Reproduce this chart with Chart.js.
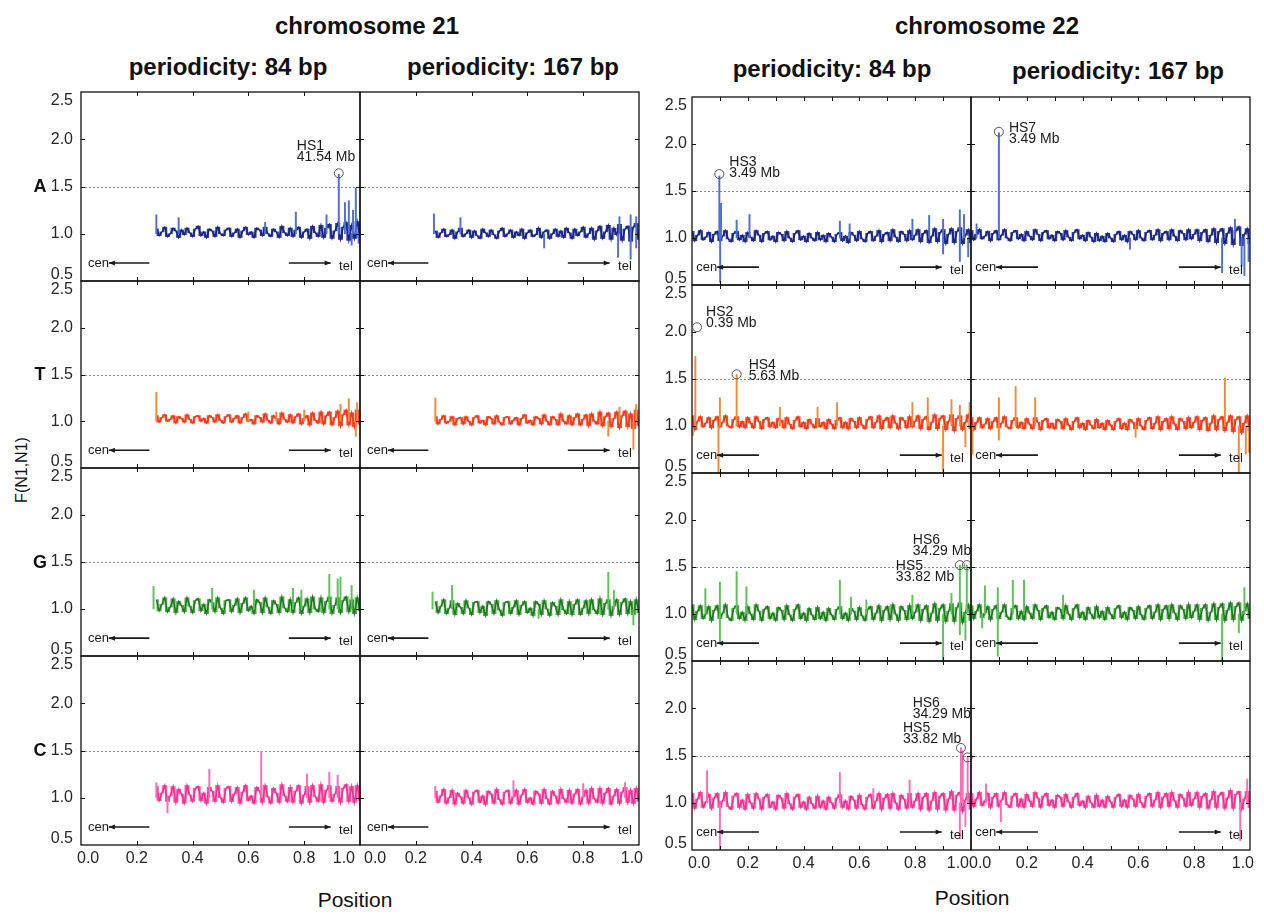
<!DOCTYPE html>
<html>
<head>
<meta charset="utf-8">
<script src="https://cdn.jsdelivr.net/npm/chart.js@4.4.1/dist/chart.umd.min.js"></script>
<style>
  body{margin:0;background:#fff;width:1264px;height:915px;overflow:hidden;position:relative;font-family:"Liberation Sans",Arial,sans-serif;}
  canvas{position:absolute;}
  .t{position:absolute;white-space:nowrap;color:#111;transform:translate(-50%,-50%);}
  .ttl{font-weight:bold;font-size:24px;}
</style>
</head>
<body>
<div class="t ttl" style="left:367px;top:26px;">chromosome 21</div>
<div class="t ttl" style="left:987px;top:26px;">chromosome 22</div>
<div class="t ttl" style="left:228px;top:67px;">periodicity: 84 bp</div>
<div class="t ttl" style="left:513px;top:67px;">periodicity: 167 bp</div>
<div class="t ttl" style="left:832px;top:69px;">periodicity: 84 bp</div>
<div class="t ttl" style="left:1118px;top:71px;">periodicity: 167 bp</div>
<div class="t" style="left:355px;top:900px;font-size:21px;">Position</div>
<div class="t" style="left:972px;top:898px;font-size:21px;">Position</div>
<div class="t" style="left:22px;top:470px;font-size:16px;transform:translate(-50%,-50%) rotate(-90deg);">F(N1,N1)</div>

<script>
// 横軸の位置 (染色体上の相対位置)
const POS21 = [
  0.27,0.28,0.29,0.30,0.31,0.32,0.33,0.34,0.35,0.36,
  0.37,0.38,0.39,0.40,0.41,0.42,0.43,0.44,0.45,0.46,
  0.47,0.48,0.49,0.50,0.51,0.52,0.53,0.54,0.55,0.56,
  0.57,0.58,0.59,0.60,0.61,0.62,0.63,0.64,0.65,0.66,
  0.67,0.68,0.69,0.70,0.71,0.72,0.73,0.74,0.75,0.76,
  0.77,0.78,0.79,0.80,0.81,0.82,0.83,0.84,0.85,0.86,
  0.87,0.88,0.89,0.90,0.91,0.92,0.93,0.94,0.95,0.96,
  0.97,0.98,0.99,1.00];
const POS22 = [
  0.00,0.01,0.02,0.03,0.04,0.05,0.06,0.07,0.08,0.09,
  0.10,0.11,0.12,0.13,0.14,0.15,0.16,0.17,0.18,0.19,
  0.20,0.21,0.22,0.23,0.24,0.25,0.26,0.27,0.28,0.29,
  0.30,0.31,0.32,0.33,0.34,0.35,0.36,0.37,0.38,0.39,
  0.40,0.41,0.42,0.43,0.44,0.45,0.46,0.47,0.48,0.49,
  0.50,0.51,0.52,0.53,0.54,0.55,0.56,0.57,0.58,0.59,
  0.60,0.61,0.62,0.63,0.64,0.65,0.66,0.67,0.68,0.69,
  0.70,0.71,0.72,0.73,0.74,0.75,0.76,0.77,0.78,0.79,
  0.80,0.81,0.82,0.83,0.84,0.85,0.86,0.87,0.88,0.89,
  0.90,0.91,0.92,0.93,0.94,0.95,0.96,0.97,0.98,0.99,
  1.00];

// 目盛り
const X_TICKS = [0.0, 0.2, 0.4, 0.6, 0.8, 1.0];
const X_LABELS = ['0.0','0.2','0.4','0.6','0.8','1.0'];
const Y_TICKS = [0.5, 1.0, 1.5, 2.0, 2.5];
const Y_LABELS = ['0.5','1.0','1.5','2.0','2.5'];
const MINOR21 = [0.2, 0.4, 0.6, 0.8];
const MINOR22 = [0.1, 0.2, 0.3, 0.4, 0.5, 0.6, 0.7, 0.8, 0.9];
const GUIDE = 1.5;
const ROWS = ['A','T','G','C'];

// chromosome 21 ノイズ (F値)
const A21_84 = [
  1.05,0.98,1.02,1.07,0.97,1.00,1.06,1.03,0.96,1.04,
  0.99,1.06,1.01,0.97,1.05,1.08,0.98,1.02,0.96,1.05,
  1.03,0.97,1.07,1.00,0.98,1.04,1.06,0.97,1.01,1.05,
  0.96,1.03,1.07,0.99,1.02,0.96,1.06,1.04,0.98,1.07,
  1.00,0.97,1.05,1.02,0.96,1.08,1.01,0.98,1.06,0.97,
  1.04,1.07,0.96,1.02,1.05,0.95,1.08,1.01,0.97,1.09,
  0.96,1.06,1.10,0.95,1.03,1.11,0.94,1.07,1.12,0.93,
  1.09,0.95,1.13,0.96];
const A21_167 = [
  1.03,0.96,1.01,1.05,0.97,0.99,1.04,0.95,1.02,1.06,
  0.97,1.00,1.04,0.96,1.03,0.98,0.95,1.05,1.01,0.97,
  1.04,0.99,0.95,1.03,1.06,0.97,1.00,1.04,0.96,1.02,
  0.98,1.05,0.95,1.01,1.04,0.97,0.99,1.06,0.96,1.02,
  1.04,0.95,1.00,1.05,0.97,1.03,0.96,1.06,1.01,0.95,
  1.05,0.98,1.02,1.07,0.96,1.00,1.06,0.94,1.03,1.08,
  0.95,1.02,1.09,0.94,1.06,0.99,1.10,0.93,1.05,1.08,
  0.92,1.07,1.11,0.94];
const T21_84 = [
  1.06,0.99,1.04,1.07,1.00,1.02,1.06,0.98,1.05,1.03,
  0.99,1.07,1.02,0.98,1.05,1.06,1.00,1.03,0.98,1.06,
  1.04,0.99,1.07,1.01,0.98,1.05,1.07,0.99,1.03,1.06,
  0.98,1.04,1.08,1.00,1.02,0.97,1.06,1.04,0.99,1.08,
  1.01,0.98,1.06,1.03,0.97,1.09,1.02,0.99,1.07,0.98,
  1.05,1.08,0.97,1.03,1.06,0.96,1.09,1.01,0.98,1.10,
  0.97,1.06,1.10,0.96,1.04,1.11,0.95,1.07,1.12,0.96,
  1.09,0.94,1.12,0.97];
const T21_167 = [
  1.05,0.97,1.02,1.06,0.98,1.00,1.05,0.96,1.03,1.04,
  0.97,1.05,1.00,0.96,1.04,1.06,0.98,1.01,0.96,1.05,
  1.03,0.97,1.06,0.99,0.96,1.04,1.05,0.97,1.01,1.04,
  0.96,1.03,1.07,0.98,1.01,0.96,1.05,1.03,0.97,1.07,
  1.00,0.96,1.05,1.02,0.96,1.08,1.00,0.97,1.06,0.96,
  1.04,1.08,0.96,1.02,1.07,0.95,1.08,1.00,0.97,1.10,
  0.95,1.05,1.09,0.94,1.03,1.10,0.93,1.06,1.11,0.94,
  1.08,0.92,1.12,0.95];
const G21_84 = [
  1.10,0.98,1.05,1.12,0.97,1.02,1.11,0.96,1.08,1.04,
  0.97,1.12,1.03,0.96,1.09,1.11,0.98,1.05,0.95,1.10,
  1.07,0.97,1.12,1.01,0.95,1.09,1.10,0.97,1.04,1.11,
  0.96,1.06,1.12,0.98,1.03,0.95,1.10,1.07,0.96,1.12,
  1.02,0.95,1.09,1.05,0.96,1.13,1.01,0.97,1.10,0.96,
  1.07,1.12,0.95,1.03,1.11,0.96,1.13,1.00,0.97,1.12,
  0.96,1.08,1.13,0.95,1.04,1.12,0.96,1.09,1.13,0.97,
  1.10,0.95,1.12,0.98];
const G21_167 = [
  1.08,0.96,1.03,1.10,0.95,1.01,1.09,0.94,1.06,1.02,
  0.95,1.09,1.01,0.94,1.07,1.08,0.96,1.03,0.93,1.08,
  1.05,0.95,1.09,0.99,0.93,1.07,1.08,0.95,1.02,1.09,
  0.94,1.04,1.08,0.96,1.01,0.93,1.08,1.05,0.94,1.09,
  1.00,0.93,1.07,1.03,0.94,1.10,0.99,0.95,1.08,0.94,
  1.05,1.10,0.94,1.01,1.09,0.95,1.10,0.99,0.95,1.11,
  0.94,1.06,1.10,0.93,1.03,1.10,0.94,1.07,1.11,0.95,
  1.08,0.94,1.10,0.96];
const C21_84 = [
  1.12,0.97,1.05,1.13,0.96,1.02,1.12,0.95,1.09,1.04,
  0.94,1.13,1.03,0.96,1.10,1.12,0.97,1.05,0.94,1.11,
  1.07,0.96,1.13,1.00,0.95,1.10,1.12,0.96,1.04,1.11,
  0.94,1.06,1.13,0.97,1.02,0.94,1.11,1.07,0.95,1.13,
  1.01,0.94,1.10,1.05,0.95,1.14,1.02,0.96,1.11,0.95,
  1.07,1.13,0.94,1.03,1.12,0.95,1.13,1.01,0.96,1.14,
  0.95,1.08,1.13,0.96,1.04,1.12,0.95,1.10,1.14,0.96,
  1.12,0.95,1.13,0.97];
const C21_167 = [
  1.07,0.95,1.02,1.09,0.94,1.00,1.08,0.93,1.05,1.01,
  0.94,1.08,1.00,0.93,1.06,1.08,0.95,1.02,0.93,1.07,
  1.04,0.94,1.09,0.98,0.93,1.06,1.08,0.94,1.01,1.08,
  0.93,1.03,1.09,0.95,1.00,0.93,1.07,1.04,0.94,1.09,
  0.99,0.93,1.07,1.02,0.94,1.09,0.99,0.95,1.08,0.94,
  1.04,1.09,0.93,1.01,1.08,0.94,1.10,0.99,0.95,1.10,
  0.94,1.05,1.10,0.93,1.02,1.09,0.94,1.06,1.11,0.95,
  1.08,0.94,1.10,0.96];

// chromosome 22 ノイズ
const A22_84 = [
  1.07,0.97,1.03,1.08,0.98,1.01,1.06,0.96,1.04,1.07,
  0.97,1.02,1.08,0.99,0.96,1.05,1.07,0.98,1.03,0.96,
  1.06,1.01,0.97,1.08,1.03,0.96,1.05,1.07,0.98,1.02,
  0.96,1.06,1.04,0.97,1.07,1.00,0.96,1.05,1.08,0.98,
  1.02,0.96,1.05,1.00,0.97,1.06,0.98,1.03,0.96,1.05,
  1.01,0.96,1.04,1.06,0.97,1.02,0.95,1.06,1.03,0.97,
  1.07,0.99,0.96,1.05,1.07,0.97,1.02,1.08,0.96,1.04,
  1.06,0.97,1.09,1.01,0.96,1.07,1.04,0.97,1.08,0.98,
  1.03,1.09,0.96,1.05,1.08,0.95,1.02,1.10,0.96,1.06,
  1.09,0.94,1.04,1.10,0.95,1.07,1.11,0.94,1.03,1.09,
  0.95];
const A22_167 = [
  1.08,0.98,1.04,1.09,0.99,1.02,1.07,0.97,1.05,1.08,
  0.98,1.03,1.09,1.00,0.97,1.06,1.08,0.99,1.04,0.97,
  1.07,1.02,0.98,1.09,1.04,0.97,1.06,1.08,0.99,1.03,
  0.97,1.07,1.05,0.98,1.08,1.01,0.97,1.06,1.09,0.99,
  1.03,0.97,1.06,1.01,0.96,1.05,0.97,1.02,0.96,1.05,
  1.00,0.96,1.04,1.07,0.98,1.03,0.96,1.07,1.04,0.98,
  1.08,1.00,0.97,1.06,1.08,0.98,1.03,1.09,0.97,1.05,
  1.07,0.98,1.09,1.02,0.97,1.08,1.05,0.98,1.09,0.99,
  1.04,1.09,0.97,1.06,1.09,0.96,1.03,1.10,0.95,1.07,
  1.10,0.94,1.05,1.11,0.93,1.08,1.12,0.92,1.04,1.10,
  0.94];
const T22_84 = [
  1.11,0.96,1.05,1.10,0.99,1.03,1.09,0.98,1.06,1.10,
  0.99,1.04,1.11,1.00,0.98,1.07,1.10,0.99,1.05,0.98,
  1.09,1.03,0.98,1.10,1.05,0.97,1.07,1.09,0.99,1.04,
  0.98,1.08,1.06,0.98,1.09,1.02,0.97,1.06,1.10,0.99,
  1.04,0.97,1.07,1.02,0.98,1.08,0.99,1.04,0.97,1.07,
  1.02,0.97,1.06,1.09,0.98,1.04,0.97,1.08,1.05,0.98,
  1.09,1.01,0.97,1.07,1.10,0.98,1.04,1.11,0.97,1.06,
  1.09,0.98,1.11,1.03,0.97,1.09,1.06,0.98,1.10,0.99,
  1.05,1.11,0.97,1.07,1.10,0.96,1.04,1.12,0.97,1.08,
  1.11,0.96,1.05,1.12,0.95,1.08,1.11,0.96,1.04,1.12,
  0.97];
const T22_167 = [
  1.09,0.96,1.04,1.09,0.98,1.02,1.08,0.97,1.05,1.09,
  0.98,1.03,1.10,0.99,0.97,1.06,1.09,0.98,1.04,0.97,
  1.08,1.02,0.97,1.09,1.04,0.96,1.06,1.08,0.98,1.03,
  0.97,1.07,1.05,0.97,1.08,1.01,0.96,1.05,1.09,0.98,
  1.03,0.96,1.06,1.01,0.97,1.07,0.98,1.03,0.96,1.06,
  1.01,0.96,1.05,1.08,0.97,1.03,0.96,1.07,1.04,0.97,
  1.08,1.00,0.96,1.06,1.09,0.97,1.03,1.10,0.96,1.05,
  1.08,0.97,1.10,1.02,0.96,1.08,1.05,0.97,1.09,0.98,
  1.04,1.10,0.96,1.06,1.09,0.95,1.03,1.11,0.96,1.07,
  1.10,0.95,1.04,1.11,0.94,1.07,1.10,0.93,1.03,1.11,
  0.95];
const G22_84 = [
  1.10,0.94,1.03,1.09,0.95,1.00,1.08,0.93,1.04,1.09,
  0.95,1.01,1.10,0.96,0.93,1.06,1.09,0.95,1.02,0.93,
  1.08,1.00,0.94,1.10,1.03,0.93,1.05,1.08,0.95,1.01,
  0.93,1.07,1.04,0.94,1.09,0.99,0.93,1.05,1.10,0.95,
  1.01,0.93,1.06,0.99,0.94,1.07,0.95,1.02,0.93,1.06,
  0.99,0.94,1.05,1.08,0.95,1.01,0.93,1.06,1.03,0.94,
  1.07,0.98,0.93,1.05,1.08,0.94,1.01,1.09,0.93,1.04,
  1.08,0.94,1.10,1.00,0.93,1.08,1.04,0.94,1.09,0.95,
  1.02,1.10,0.93,1.05,1.09,0.92,1.01,1.11,0.93,1.06,
  1.10,0.92,1.03,1.11,0.92,1.07,1.12,0.91,1.02,1.10,
  0.93];
const G22_167 = [
  1.09,0.95,1.03,1.10,0.96,1.01,1.08,0.94,1.05,1.09,
  0.95,1.02,1.10,0.97,0.94,1.06,1.09,0.95,1.03,0.94,
  1.08,1.01,0.95,1.10,1.04,0.94,1.06,1.09,0.96,1.02,
  0.94,1.07,1.05,0.95,1.09,1.00,0.94,1.06,1.10,0.96,
  1.02,0.94,1.07,1.00,0.95,1.08,0.96,1.03,0.94,1.07,
  1.00,0.95,1.06,1.09,0.96,1.02,0.94,1.07,1.04,0.95,
  1.08,0.99,0.94,1.06,1.09,0.95,1.02,1.10,0.94,1.05,
  1.09,0.95,1.10,1.01,0.94,1.09,1.05,0.95,1.10,0.96,
  1.03,1.10,0.94,1.06,1.10,0.93,1.02,1.11,0.94,1.07,
  1.11,0.93,1.04,1.12,0.94,1.08,1.12,0.93,1.03,1.11,
  0.95];
const C22_84 = [
  1.10,0.94,1.04,1.11,0.95,1.01,1.09,0.94,1.05,1.10,
  0.95,1.02,1.11,0.96,0.93,1.07,1.10,0.95,1.03,0.93,
  1.09,1.00,0.94,1.10,1.04,0.93,1.06,1.09,0.95,1.01,
  0.93,1.08,1.05,0.94,1.10,0.99,0.93,1.06,1.09,0.95,
  1.01,0.93,1.06,0.99,0.94,1.07,0.95,1.02,0.93,1.06,
  1.00,0.94,1.05,1.09,0.95,1.02,0.93,1.07,1.03,0.94,
  1.08,0.98,0.93,1.06,1.09,0.94,1.02,1.10,0.93,1.05,
  1.09,0.94,1.10,1.00,0.93,1.08,1.04,0.94,1.10,0.95,
  1.02,1.10,0.93,1.06,1.10,0.92,1.02,1.11,0.93,1.07,
  1.10,0.92,1.04,1.12,0.92,1.08,1.11,0.91,1.03,1.10,
  0.93];
const C22_167 = [
  1.10,0.96,1.04,1.11,0.97,1.02,1.10,0.95,1.06,1.10,
  0.96,1.03,1.11,0.98,0.95,1.07,1.10,0.96,1.04,0.95,
  1.09,1.02,0.96,1.11,1.05,0.95,1.07,1.10,0.97,1.03,
  0.95,1.08,1.06,0.96,1.09,1.01,0.95,1.06,1.10,0.97,
  1.02,0.95,1.07,1.00,0.95,1.08,0.96,1.03,0.95,1.07,
  1.01,0.95,1.06,1.09,0.96,1.03,0.95,1.08,1.04,0.96,
  1.09,1.00,0.95,1.07,1.10,0.96,1.03,1.11,0.95,1.06,
  1.10,0.96,1.11,1.02,0.95,1.09,1.05,0.96,1.11,0.97,
  1.04,1.11,0.95,1.07,1.10,0.94,1.03,1.12,0.95,1.08,
  1.11,0.94,1.05,1.13,0.94,1.09,1.12,0.93,1.04,1.12,
  0.95];

// スパイク [位置, ピーク値]
const SPK_A21_84 = [[0.27,1.20],[0.35,1.17],[0.66,1.12],[0.77,1.23],[0.88,1.20],[0.924,1.63],[0.946,1.33],[0.96,1.35],[0.975,1.25],[0.985,1.48],[0.97,0.88],[0.995,0.90]];
const SPK_A21_167 = [[0.265,1.21],[0.36,1.17],[0.66,0.85],[0.93,1.18],[0.97,1.20],[0.99,1.18],[0.925,0.75],[0.97,0.73],[0.99,0.85]];
const SPK_T21_84 = [[0.27,1.31],[0.60,1.10],[0.70,1.10],[0.80,1.12],[0.93,1.18],[0.96,1.24],[0.99,1.20],[0.985,0.84]];
const SPK_T21_167 = [[0.27,1.25],[0.93,1.15],[0.99,1.18],[0.89,0.84],[0.98,0.70]];
const SPK_G21_84 = [[0.26,1.24],[0.47,1.22],[0.62,1.20],[0.76,1.22],[0.79,1.20],[0.89,1.37],[0.92,1.32],[0.93,1.34],[0.97,1.25]];
const SPK_G21_167 = [[0.26,1.18],[0.33,1.25],[0.89,1.39],[0.91,1.20],[0.64,0.90],[0.98,0.83]];
const SPK_C21_84 = [[0.27,1.16],[0.31,0.84],[0.46,1.30],[0.646,1.49],[0.81,1.25],[0.89,1.27],[0.92,1.24]];
const SPK_C21_167 = [[0.27,1.12],[0.55,1.18],[0.80,1.15],[0.95,1.16]];
const SPK_A22_84 = [[0.098,1.66],[0.104,1.37],[0.101,0.53],[0.16,1.19],[0.206,1.25],[0.53,1.18],[0.565,1.15],[0.79,1.20],[0.85,1.24],[0.90,1.20],[0.96,1.30],[0.975,1.25],[0.90,0.83],[0.96,0.75],[0.99,0.80]];
const SPK_A22_167 = [[0.10,2.12],[0.02,1.15],[0.946,1.20],[0.57,0.88],[0.90,0.63],[0.97,0.70],[0.98,0.60],[0.995,0.75]];
const SPK_T22_84 = [[0.012,1.74],[0.003,0.90],[0.16,1.55],[0.10,1.30],[0.095,0.50],[0.90,0.50],[0.98,0.78],[0.315,1.20],[0.45,1.20],[0.52,1.25],[0.79,1.25],[0.845,1.30],[0.93,1.28],[0.96,1.22],[0.995,1.25]];
const SPK_T22_167 = [[0.10,1.30],[0.16,1.42],[0.23,1.30],[0.91,1.51],[0.005,0.70],[0.10,0.85],[0.59,0.88],[0.96,0.50],[0.985,0.70],[0.997,0.72]];
const SPK_G22_84 = [[0.048,1.27],[0.10,1.34],[0.10,0.70],[0.16,1.45],[0.195,1.29],[0.53,1.36],[0.57,1.18],[0.625,1.15],[0.79,1.20],[0.93,1.22],[0.96,1.52],[0.985,1.52],[0.90,0.50],[0.96,0.78],[0.98,0.72]];
const SPK_G22_167 = [[0.05,1.30],[0.096,1.28],[0.096,0.55],[0.15,1.36],[0.19,1.36],[0.33,1.20],[0.98,1.28],[0.90,0.50],[0.96,0.80],[0.04,0.85]];
const SPK_C22_84 = [[0.054,1.34],[0.10,0.50],[0.53,1.32],[0.65,1.15],[0.78,1.24],[0.97,1.55],[0.964,1.58],[0.988,1.48],[0.96,0.62],[0.98,0.75]];
const SPK_C22_167 = [[0.054,1.20],[0.107,0.80],[0.99,1.25],[0.965,0.60]];

// ホットスポットの注釈
const HS_A21 = [{x:0.924, y:1.64, lines:['HS1','41.54 Mb']}];
const HS_A22 = [{x:0.098, y:1.68, lines:['HS3','3.49 Mb']}];
const HS_A22B = [{x:0.10, y:2.13, lines:['HS7','3.49 Mb']}];
const HS_T22 = [{x:0.018, y:2.05, lines:['HS2','0.39 Mb']}, {x:0.16, y:1.55, lines:['HS4','5.63 Mb']}];
const HS_G22 = [{x:0.96, y:1.52, lines:['HS5','33.82 Mb']}, {x:0.985, y:1.52, lines:['HS6','34.29 Mb']}];
const HS_C22 = [{x:0.964, y:1.58, lines:['HS5','33.82 Mb']}, {x:0.988, y:1.48, lines:['HS6','34.29 Mb']}];

// 見た目の設定 (位置・色)
const LAYOUT = {
  21: {cols: [[81,360],[360,639]], rows: [[92,281],[281,468],[468,656],[656,845]]},
  22: {cols: [[692,971],[971,1250]], rows: [[97,285],[285,473],[473,661],[661,850]]}
};
const COLORS = [
  {band:'#2c3c9c', line:'#18237e', spike:'#4f6fd6'},
  {band:'#ff4e2a', line:'#f0381a', spike:'#f28a3c'},
  {band:'#4aaa44', line:'#1f7422', spike:'#5cc25a'},
  {band:'#ff56ac', line:'#ef2f8e', spike:'#ff6cb8'}
];
// HSの文字のオフセット(px)
const HS_OFFSETS = {
  'HS1': [-42, -27], 'HS3': [10, -12], 'HS7': [10, -4], 'HS2': [9, -15], 'HS4': [12, -9],
  'HS5G': [-64, 1], 'HS6G': [-54, -25], 'HS5C': [-58, -20], 'HS6C': [-55, -54]
};
// 横軸ラベルの端のずらし [col0左, col0右, col1左, col1右]
const XLAB_SHIFT = {21: [-4, -5, 4, 4], 22: [-4, -2, -2, 4]};
const PAD = {left: 60, right: 20, top: 20, bottom: 32};

const panels = [
  {chr:21,col:0,row:0,pos:POS21,vals:A21_84,spk:SPK_A21_84,hs:HS_A21,key:''},
  {chr:21,col:1,row:0,pos:POS21,vals:A21_167,spk:SPK_A21_167,hs:[],key:''},
  {chr:21,col:0,row:1,pos:POS21,vals:T21_84,spk:SPK_T21_84,hs:[],key:''},
  {chr:21,col:1,row:1,pos:POS21,vals:T21_167,spk:SPK_T21_167,hs:[],key:''},
  {chr:21,col:0,row:2,pos:POS21,vals:G21_84,spk:SPK_G21_84,hs:[],key:''},
  {chr:21,col:1,row:2,pos:POS21,vals:G21_167,spk:SPK_G21_167,hs:[],key:''},
  {chr:21,col:0,row:3,pos:POS21,vals:C21_84,spk:SPK_C21_84,hs:[],key:''},
  {chr:21,col:1,row:3,pos:POS21,vals:C21_167,spk:SPK_C21_167,hs:[],key:''},
  {chr:22,col:0,row:0,pos:POS22,vals:A22_84,spk:SPK_A22_84,hs:HS_A22,key:''},
  {chr:22,col:1,row:0,pos:POS22,vals:A22_167,spk:SPK_A22_167,hs:HS_A22B,key:''},
  {chr:22,col:0,row:1,pos:POS22,vals:T22_84,spk:SPK_T22_84,hs:HS_T22,key:''},
  {chr:22,col:1,row:1,pos:POS22,vals:T22_167,spk:SPK_T22_167,hs:[],key:''},
  {chr:22,col:0,row:2,pos:POS22,vals:G22_84,spk:SPK_G22_84,hs:HS_G22,key:'G'},
  {chr:22,col:1,row:2,pos:POS22,vals:G22_167,spk:SPK_G22_167,hs:[],key:''},
  {chr:22,col:0,row:3,pos:POS22,vals:C22_84,spk:SPK_C22_84,hs:HS_C22,key:'C'},
  {chr:22,col:1,row:3,pos:POS22,vals:C22_167,spk:SPK_C22_167,hs:[],key:''}
];

// 矢印
function arrow(ctx, x0, x1, y) {
  ctx.beginPath(); ctx.moveTo(x0, y); ctx.lineTo(x1, y); ctx.stroke();
  const d = x1 > x0 ? 1 : -1;
  ctx.beginPath(); ctx.moveTo(x1, y); ctx.lineTo(x1 - d*6, y - 2.5); ctx.lineTo(x1 - d*6, y + 2.5); ctx.closePath(); ctx.fill();
}

// 枠・目盛り・注釈を描くプラグイン
function deco(p) {
  return {
    id: 'deco',
    beforeDatasetsDraw(chart) {
      const {ctx, chartArea: a, scales: {y}} = chart;
      const yy = Math.round(y.getPixelForValue(GUIDE)) + 0.5;
      ctx.save();
      ctx.strokeStyle = '#8c8c8c'; ctx.lineWidth = 1; ctx.setLineDash([2, 2]);
      ctx.beginPath(); ctx.moveTo(a.left, yy); ctx.lineTo(a.right, yy); ctx.stroke();
      ctx.restore();
    },
    afterDraw(chart) {
      const {ctx, chartArea: a, scales: {x, y}} = chart;
      ctx.save();
      ctx.strokeStyle = '#111'; ctx.fillStyle = '#111'; ctx.lineWidth = 1.3;
      ctx.strokeRect(a.left, a.top, a.right - a.left, a.bottom - a.top);
      // 内向きの目盛り
      ctx.lineWidth = 1;
      const minor = p.chr === 21 ? MINOR21 : MINOR22;
      minor.forEach(v => {
        const px = Math.round(x.getPixelForValue(v)) + 0.5;
        ctx.beginPath(); ctx.moveTo(px, a.bottom); ctx.lineTo(px, a.bottom - 4);
        ctx.moveTo(px, a.top); ctx.lineTo(px, a.top + 4); ctx.stroke();
      });
      Y_TICKS.slice(1, -1).forEach(v => {
        const py = Math.round(y.getPixelForValue(v)) + 0.5;
        ctx.beginPath(); ctx.moveTo(a.left, py); ctx.lineTo(a.left + 4, py);
        ctx.moveTo(a.right, py); ctx.lineTo(a.right - 4, py); ctx.stroke();
      });
      // 縦軸ラベル
      ctx.font = '16px "Liberation Sans", Arial, sans-serif';
      ctx.fillStyle = '#262626';
      if (p.col === 0) {
        ctx.textAlign = 'right';
        Y_TICKS.forEach((v, i) => {
          const py = y.getPixelForValue(v);
          ctx.textBaseline = i === 0 ? 'bottom' : (i === Y_TICKS.length - 1 ? 'top' : 'middle');
          ctx.fillText(Y_LABELS[i], a.left - (p.chr === 21 ? 8 : 5), i === 0 ? py + 2 : (i === Y_TICKS.length - 1 ? py + 1 : py));
        });
        if (p.chr === 21) {
          ctx.font = 'bold 18px "Liberation Sans", Arial, sans-serif';
          ctx.textAlign = 'center'; ctx.textBaseline = 'middle'; ctx.fillStyle = '#111';
          ctx.fillText(ROWS[p.row], a.left - 41, y.getPixelForValue(GUIDE) + 1);
        }
      }
      // 横軸ラベル
      if (p.row === 3) {
        ctx.font = '16px "Liberation Sans", Arial, sans-serif';
        ctx.fillStyle = '#262626'; ctx.textBaseline = 'middle';
        const sh = XLAB_SHIFT[p.chr];
        X_TICKS.forEach((v, i) => {
          let px = x.getPixelForValue(v);
          if (i === 0) { ctx.textAlign = 'left'; px += sh[p.col * 2]; }
          else if (i === X_TICKS.length - 1) { ctx.textAlign = 'right'; px += sh[p.col * 2 + 1]; }
          else ctx.textAlign = 'center';
          ctx.fillText(X_LABELS[i], px, a.bottom + 14);
        });
      }
      // cen / tel
      ctx.font = '13px "Liberation Sans", Arial, sans-serif';
      ctx.fillStyle = '#1a1a1a'; ctx.strokeStyle = '#1a1a1a'; ctx.lineWidth = 1.6;
      ctx.textBaseline = 'middle'; ctx.textAlign = 'left';
      const cy = y.getPixelForValue(0.69);
      const c0 = p.chr === 21 ? 0.025 : 0.015;
      ctx.fillText('cen', x.getPixelForValue(c0), cy);
      arrow(ctx, x.getPixelForValue(p.chr === 21 ? 0.245 : 0.24), x.getPixelForValue(c0 + 0.075), cy);
      arrow(ctx, x.getPixelForValue(0.745), x.getPixelForValue(0.895), cy);
      ctx.fillText('tel', x.getPixelForValue(0.925), cy + 3);
      // HS 注釈
      ctx.lineWidth = 1; ctx.strokeStyle = '#555';
      ctx.font = '14px "Liberation Sans", Arial, sans-serif'; ctx.fillStyle = '#1a1a1a';
      p.hs.forEach(h => {
        const px = x.getPixelForValue(h.x), py = y.getPixelForValue(h.y);
        ctx.beginPath(); ctx.arc(px, py, 4.5, 0, Math.PI * 2); ctx.stroke();
        const off = HS_OFFSETS[h.lines[0] + p.key];
        ctx.textAlign = 'left';
        ctx.fillText(h.lines[0], px + off[0], py + off[1]);
        ctx.fillText(h.lines[1], px + off[0], py + off[1] + 11);
      });
      ctx.restore();
    }
  };
}

panels.forEach(p => {
  const L = LAYOUT[p.chr];
  const [x0, x1] = L.cols[p.col];
  const [y0, y1] = L.rows[p.row];
  const cv = document.createElement('canvas');
  cv.width = x1 - x0 + PAD.left + PAD.right;
  cv.height = y1 - y0 + PAD.top + PAD.bottom;
  cv.style.left = (x0 - PAD.left) + 'px';
  cv.style.top = (y0 - PAD.top) + 'px';
  document.body.appendChild(cv);
  const col = COLORS[p.row];
  // 隣り合う2点の間の振れ幅を細い縦線で塗る
  const band = p.vals.slice(0, -1).map((v, i) => ({x: (p.pos[i] + p.pos[i + 1]) / 2, y: [v, p.vals[i + 1]]}));
  new Chart(cv, {
    type: 'line',
    data: {
      datasets: [
        {
          type: 'bar',
          data: p.spk.map(s => ({x: s[0], y: [1.0, s[1]]})),
          backgroundColor: col.spike,
          borderWidth: 0,
          barThickness: 1.3,
          grouped: false,
          order: 0
        },
        {
          type: 'line',
          data: p.pos.map((v, i) => ({x: v, y: p.vals[i]})),
          borderColor: col.line,
          borderWidth: 1.4,
          pointRadius: 0,
          tension: 0,
          order: 1
        },
        {
          type: 'bar',
          data: band,
          backgroundColor: col.band,
          borderWidth: 0,
          barThickness: 1.6,
          grouped: false,
          order: 2
        }
      ]
    },
    options: {
      responsive: false,
      animation: false,
      devicePixelRatio: 1,
      layout: {padding: PAD},
      plugins: {legend: {display: false}, tooltip: {enabled: false}},
      scales: {
        x: {type: 'linear', min: 0, max: 1, offset: false, display: false},
        y: {type: 'linear', min: 0.5, max: 2.5, display: false}
      }
    },
    plugins: [deco(p)]
  });
});
</script>
</body>
</html>
